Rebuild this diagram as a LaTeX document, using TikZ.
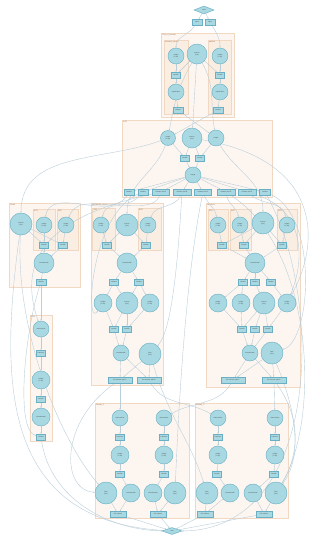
\documentclass[tikz,border=0pt]{standalone}
\usepackage{fontspec}
\setmainfont{Liberation Sans}
\usetikzlibrary{shapes.geometric,arrows.meta}
\definecolor{cfill}{HTML}{A8D9E3}
\definecolor{cline}{HTML}{6AAFC4}
\definecolor{kfill}{HTML}{FDF6F0}
\definecolor{kline}{HTML}{F1D8C3}
\definecolor{sfill}{HTML}{FAEDE1}
\definecolor{eline}{HTML}{BACEDA}
\definecolor{ktext}{HTML}{A57A5C}
\pgfdeclarelayer{back}
\pgfdeclarelayer{mid}
\pgfsetlayers{back,mid,main}
\tikzset{
 circ/.style={circle,draw=cline,fill=cfill,line width=0.45pt,inner sep=0pt,align=center,font=\fontsize{1.7}{1.9}\selectfont,text=black!70},
 bx/.style={rectangle,draw=cline,fill=cfill,line width=0.45pt,inner sep=0pt,minimum height=5.5pt,align=center,font=\fontsize{1.7}{1.9}\selectfont,text=black!70},
 dia/.style={diamond,draw=cline,fill=cfill,line width=0.45pt,inner sep=0pt,minimum width=20pt,minimum height=8pt,font=\fontsize{1.7}{1.9}\selectfont,text=black!70},
 clus/.style={draw=kline,fill=kfill,line width=0.5pt},
 sclus/.style={draw=kline,fill=sfill,line width=0.5pt},
 klabel/.style={anchor=north west,inner sep=0.8pt,font=\fontsize{2}{2.2}\selectfont,text=ktext},
 edge/.style={draw=eline,line width=0.4pt,-{Stealth[length=1.6pt,width=1.3pt]}}
}
\newcommand\mkcirc[5]{\node[circ,minimum size=#4pt] (#1) at (#2,#3) {#5};}
\newcommand\mkbox[5]{\node[bx,minimum width=#4pt] (#1) at (#2,#3) {#5};}
\newcommand\mkclus[7]{\path[#1] (#3,#4) rectangle (#5,#6); \node[klabel] (#2) at (#3,#4) {#7};}
\begin{document}
\begin{tikzpicture}[x=1pt,y=-1pt]
\useasboundingbox (0,0) rectangle (326,536);
\begin{pgfonlayer}{back}
\fill[white] (0,0) rectangle (326,536);
\mkclus{clus}{kA}{161}{33}{234}{117}{Trial\_of\_annual}
\mkclus{sclus}{kA1}{164}{40}{188}{114}{forward\_model}
\mkclus{sclus}{kA2}{208}{40}{231}{114}{pattern}
\mkclus{clus}{kI}{122}{120}{272}{197}{ICM}
\mkclus{clus}{kF}{9}{203}{80}{287}{Fresh}
\mkclus{sclus}{kF1}{33}{209}{55}{250}{ES1}
\mkclus{sclus}{kF2}{57}{209}{78}{250}{ES2}
\mkclus{clus}{kM}{91}{203}{163}{385}{Worldwide\_input}
\mkclus{sclus}{kM1}{92.5}{208}{115}{250}{ES1}
\mkclus{sclus}{kM2}{138}{208}{161}{250}{ES3}
\mkclus{clus}{kN}{206}{203}{300}{387}{Necrosis}
\mkclus{sclus}{kN1}{208}{209}{228}{250}{ES1}
\mkclus{sclus}{kN2}{230}{209}{251}{250}{ES2}
\mkclus{sclus}{kN3}{277}{209}{297}{250}{ES3}
\mkclus{clus}{kE}{30}{315}{52}{441}{ES4}
\mkclus{clus}{kR1}{95}{403}{189}{518}{Replay\_1}
\mkclus{clus}{kR2}{195}{403}{288}{518}{Replay\_2}
\end{pgfonlayer}
% top
\node[dia] (dtop) at (204,10) {start};
\mkbox{t1}{197}{22}{10}{input}
\mkbox{t2}{210}{22}{10}{input}
% cluster A
\mkcirc{a1}{176}{56}{16}{output\\(1 list)}
\mkcirc{a2}{197}{54}{20}{source\\(list)}
\mkcirc{a3}{220}{56}{16}{output\\(1 list)}
\mkbox{a4}{176}{75}{9}{handle}
\mkbox{a5}{220}{75}{9}{handle}
\mkcirc{a6}{176}{92}{16}{registration}
\mkcirc{a7}{220}{92}{16}{registration}
\mkbox{a8}{178}{110}{10}{release}
\mkbox{a9}{218}{110}{10}{release}
% ICM
\mkcirc{i1}{168}{138}{15}{output\\(1 list)}
\mkcirc{i2}{192}{138}{20}{source\\(list)}
\mkcirc{i3}{216}{138}{16}{output}
\mkbox{i4}{185}{158}{9}{handle}
\mkbox{i5}{200}{158}{9}{handle}
\mkcirc{i6}{193}{175}{16}{merge}
\mkbox{r1}{129}{192}{10}{release}
\mkbox{r2}{143}{192}{10}{release}
\mkbox{r3}{161}{192}{17}{release part A}
\mkbox{r4}{182}{192}{18}{release part B}
\mkbox{r5}{203}{192}{17}{release part C}
\mkbox{r6}{226}{192}{18}{release part D}
\mkbox{r7}{247}{192}{18}{release part E}
\mkbox{r8}{265}{192}{11}{release}
% Fresh
\mkcirc{f1}{21}{224}{22}{source\\(list)}
\mkcirc{f2}{44}{225}{16}{output\\(1 list)}
\mkcirc{f3}{66}{225}{16}{output\\(1 list)}
\mkbox{f4}{44}{245}{9}{handle}
\mkbox{f5}{63}{245}{9}{handle}
\mkcirc{f6}{44}{263}{20}{concatenate}
\mkbox{f7}{41}{282}{10}{release}
% Middle
\mkcirc{m1}{101}{225}{16}{output\\(1 list)}
\mkcirc{m2}{127}{225}{22}{source\\(list)}
\mkcirc{m3}{148}{225}{16}{output\\(1 list)}
\mkbox{m4}{107}{245}{9}{handle}
\mkbox{m5}{146}{245}{9}{handle}
\mkcirc{m6}{127}{263}{20}{concatenate}
\mkbox{m7}{114}{282}{9}{release}
\mkbox{m8}{139}{282}{9}{release}
\mkcirc{m9}{103}{303}{18}{output\\(1 list)}
\mkcirc{m10}{127}{303}{22}{source\\(list)}
\mkcirc{m11}{150}{303}{18}{output\\(1 list)}
\mkbox{m12}{114}{329}{9}{handle}
\mkbox{m13}{127}{329}{9}{handle}
\mkcirc{m14}{121}{353}{16}{concatenate}
\mkcirc{m15}{150}{354}{22}{item\\(list)}
\mkbox{m16}{120}{380}{24}{full release part A}
\mkbox{m17}{149}{380}{24}{full release part B}
% Necrosis
\mkcirc{n1}{218}{225}{16}{output\\(1 list)}
\mkcirc{n2}{240}{225}{16}{output\\(1 list)}
\mkcirc{n3}{263}{223}{22}{source\\(list)}
\mkcirc{n4}{287}{225}{16}{output\\(1 list)}
\mkbox{n5}{222}{245}{9}{handle}
\mkbox{n6}{244}{245}{9}{handle}
\mkbox{n7}{282}{245}{9}{handle}
\mkcirc{n8}{255}{263}{20}{concatenate}
\mkbox{n9}{243}{282}{9}{release}
\mkbox{n10}{255}{282}{9}{release}
\mkbox{n11}{271}{282}{9}{release}
\mkcirc{n12}{218}{303}{18}{output\\(1 list)}
\mkcirc{n13}{241}{303}{18}{output\\(1 list)}
\mkcirc{n14}{264}{303}{22}{source\\(list)}
\mkcirc{n15}{287}{303}{18}{output\\(1 list)}
\mkbox{n16}{242}{329}{9}{handle}
\mkbox{n17}{255}{329}{9}{handle}
\mkbox{n18}{268}{329}{9}{handle}
\mkcirc{n19}{250}{353}{16}{concatenate}
\mkcirc{n20}{272}{353}{22}{item\\(list)}
\mkbox{n21}{233}{380}{24}{full release part A}
\mkbox{n22}{274}{380}{24}{full release part B}
% ES4
\mkcirc{e1}{41}{329}{16}{observation}
\mkbox{e2}{41}{353}{9}{transient}
\mkcirc{e3}{41}{380}{18}{output\\(1 list)}
\mkbox{e4}{41}{399}{9}{handle}
\mkcirc{e5}{41}{417}{18}{concatenate}
\mkbox{e6}{41}{437}{9}{release}
% Replay 1
\mkcirc{p1}{120}{418}{16}{observation}
\mkcirc{p2}{164}{418}{16}{observation}
\mkbox{p3}{120}{437}{9}{transient}
\mkbox{p4}{164}{437}{9}{transient}
\mkcirc{p5}{120}{455}{18}{output\\(1 list)}
\mkcirc{p6}{164}{455}{18}{output\\(1 list)}
\mkbox{p7}{120}{474}{9}{handle}
\mkbox{p8}{164}{474}{9}{handle}
\mkcirc{p9}{106}{493}{22}{item\\(list)}
\mkcirc{p10}{131}{493}{18}{concatenate}
\mkcirc{p11}{153}{493}{18}{concatenate}
\mkcirc{p12}{175}{493}{22}{item\\(list)}
\mkbox{p13}{118}{514}{16}{full release}
\mkbox{p14}{158}{514}{16}{full release}
% Replay 2
\mkcirc{q1}{218}{418}{16}{observation}
\mkcirc{q2}{275}{418}{16}{observation}
\mkbox{q3}{218}{437}{9}{transient}
\mkbox{q4}{275}{437}{9}{transient}
\mkcirc{q5}{218}{455}{18}{output\\(1 list)}
\mkcirc{q6}{275}{455}{18}{output\\(1 list)}
\mkbox{q7}{217}{474}{9}{handle}
\mkbox{q8}{274}{474}{9}{handle}
\mkcirc{q9}{207}{493}{22}{item\\(list)}
\mkcirc{q10}{230}{493}{18}{concatenate}
\mkcirc{q11}{253}{493}{18}{concatenate}
\mkcirc{q12}{276}{493}{22}{item\\(list)}
\mkbox{q13}{205}{514}{16}{full release}
\mkbox{q14}{264}{514}{16}{full release}
\node[dia,minimum height=7pt] (dbot) at (172,531) {end};
% edges
\begin{pgfonlayer}{mid}
\foreach \a/\b in {dtop/t1,dtop/t2,a1/a4,a4/a6,a6/a8,a3/a5,a5/a7,a7/a9,a2/a4,a2/a5,a2/i2,a8/i3,a9/i1,
 i1/i4,i2/i4,i2/i5,i3/i5,i4/i6,i5/i6,i6/r1,i6/r2,i6/r3,i6/r4,i6/r5,i6/r6,i6/r7,i6/r8,
 f2/f4,f3/f5,f1/f4,f1/f5,f4/f6,f5/f6,f6/f7,f7/e1,
 m1/m4,m2/m4,m2/m5,m3/m5,m4/m6,m5/m6,m6/m7,m6/m8,m7/m9,m8/m11,m7/m10,m8/m10,
 m9/m12,m10/m12,m10/m13,m11/m13,m12/m14,m13/m14,m14/m16,m14/m17,m15/m16,m15/m17,
 n1/n5,n2/n6,n3/n5,n3/n6,n3/n7,n4/n7,n5/n8,n6/n8,n7/n8,n8/n9,n8/n10,n8/n11,
 n9/n12,n10/n14,n11/n15,n9/n13,
 n12/n16,n13/n16,n14/n16,n14/n17,n14/n18,n15/n18,n16/n19,n17/n19,n18/n19,
 n19/n21,n19/n22,n20/n21,n20/n22,
 e1/e2,e2/e3,e3/e4,e4/e5,e5/e6,
 m16/p1,n22/q2,
 p1/p3,p3/p5,p5/p7,p7/p10,p9/p13,p10/p13,p2/p4,p4/p6,p6/p8,p8/p11,p11/p14,p12/p14,
 q1/q3,q3/q5,q5/q7,q7/q10,q9/q13,q10/q13,q2/q4,q4/q6,q6/q8,q8/q11,q11/q14,q12/q14,
 p13/dbot,p14/dbot,q13/dbot,q14/dbot}
 \draw[edge] (\a) -- (\b);
\draw[edge] (t1) to[out=-120,in=90] (a1);
\draw[edge] (t2) to[out=-60,in=90] (a3);
\draw[edge] (a2) to[out=-120,in=80] (i1);
\draw[edge] (a2) to[out=-60,in=100] (i3);
\draw[edge] (i1) to[out=200,in=90] (f1);
\draw[edge] (i1) to[out=-110,in=90] (m2);
\draw[edge] (i3) to[out=-60,in=90] (n3);
\draw[edge] (r1) to[out=-120,in=80] (f2);
\draw[edge] (r2) to[out=-130,in=70] (f3);
\draw[edge] (r3) to[out=-110,in=80] (m1);
\draw[edge] (r4) to[out=-110,in=70] (m3);
\draw[edge] (r5) to[out=-70,in=100] (n1);
\draw[edge] (r6) to[out=-80,in=100] (n2);
\draw[edge] (r7) to[out=-40,in=100] (n4);
\draw[edge] (r4) .. controls (178,260) and (172,330) .. (m15);
\draw[edge] (r8) .. controls (318,215) and (312,340) .. (n20);
\draw[edge] (r3) .. controls (80,210) and (10,240) .. (e1);
\draw[edge] (r5) .. controls (185,280) and (178,420) .. (p12);
\draw[edge] (r6) .. controls (315,250) and (320,420) .. (q12);
\draw[edge] (r2) .. controls (90,215) and (85,330) .. (m9);
\draw[edge] (r7) .. controls (305,210) and (305,260) .. (n15);
\draw[edge] (f1) .. controls (15,330) and (60,440) .. (p9);
\draw[edge] (f7) .. controls (25,330) and (15,430) .. (e6);
\draw[edge] (m17) to[out=-60,in=150] (q1);
\draw[edge] (n21) to[out=-120,in=30] (p2);
\draw[edge] (m15) .. controls (170,420) and (190,440) .. (q9);
\draw[edge] (n20) .. controls (300,420) and (300,460) .. (q12);
\draw[edge] (e6) .. controls (50,500) and (110,530) .. (dbot);
\draw[edge] (f1) .. controls (0,380) and (0,520) .. (dbot);
\draw[edge] (r8) .. controls (325,300) and (320,530) .. (dbot);
\draw[edge] (m16) .. controls (60,420) and (60,490) .. (p9);
\draw[edge] (n22) .. controls (310,430) and (290,470) .. (q12);
\draw[edge] (i2) .. controls (320,160) and (322,240) .. (n15);
\end{pgfonlayer}
\end{tikzpicture}
\end{document}
